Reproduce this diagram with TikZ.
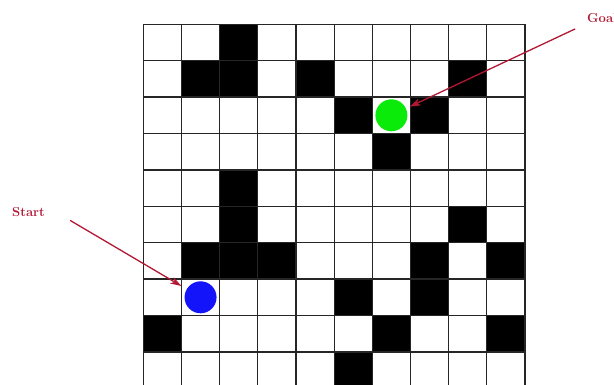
\documentclass[tikz,border=0pt]{standalone}
\usepackage{xcolor}
\usepackage{tikz}
\usetikzlibrary{arrows.meta, positioning}

\definecolor{pointer}{RGB}{178,24,52}
\definecolor{goalgreen}{RGB}{10,235,10}
\definecolor{startblue}{RGB}{20,20,250}

\begin{document}
\begin{tikzpicture}[
    x=1pt, y=-1pt,
    cellgrid/.style={draw=black!85, line width=1.3pt},
    wall/.style={fill=black},
    dot/.style={circle, minimum size=32pt, inner sep=0pt},
    lbl/.style={text=pointer, font=\fontsize{13}{15}\selectfont\bfseries, inner sep=1pt},
    ptr/.style={-{Stealth[length=11pt, width=7pt, inset=3pt]}, draw=pointer, line width=1.3pt}
]
    \useasboundingbox (0,0) rectangle (614,385);
    \clip (0,0) rectangle (614,385);

    % Grid (10 x 10 cells)
    \begin{scope}[shift={(143.3,24.3)}, x=38.17pt, y=-36.4pt]
        % Walls
        \foreach \c/\r in {2/0, 1/1, 2/1, 4/1, 8/1, 5/2, 7/2, 6/3, 2/4, 2/5, 8/5,
                           1/6, 2/6, 3/6, 7/6, 9/6, 5/7, 7/7, 0/8, 6/8, 9/8, 5/9}
            \fill[wall] (\c,\r) rectangle ++(1,1);
        % Lines
        \foreach \i in {0,...,10} {
            \draw[cellgrid] (\i,0) -- (\i,10);
            \draw[cellgrid] (0,\i) -- (10,\i);
        }
        % Start and goal
        \node[dot, fill=goalgreen] (goal)  at (6.5,2.5) {};
        \node[dot, fill=startblue] (start) at (1.5,7.5) {};
    \end{scope}

    % Labels
    \node[lbl, anchor=west] (goallbl)  at (586,18)  {Goal};
    \node[lbl, anchor=west] (startlbl) at (11,212)  {Start};

    % Pointers
    \draw[ptr, shorten <=12pt, shorten >=4pt] (goallbl.south west) -- (goal);
    \draw[ptr, shorten <=28pt, shorten >=6pt] (startlbl.north east) -- (start);
\end{tikzpicture}
\end{document}
